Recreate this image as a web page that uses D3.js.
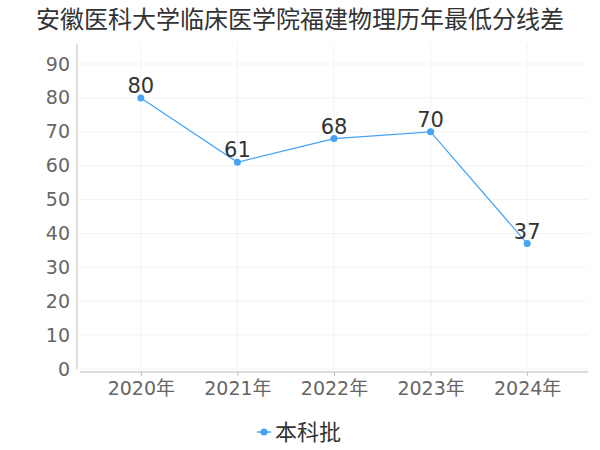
<!DOCTYPE html>
<html>
<head>
<meta charset="utf-8">
<script src="https://cdn.jsdelivr.net/npm/d3@7"></script>
<style>
  body { margin: 0; background: #fff; }
  text { font-family: "DejaVu Sans", "Noto Sans CJK SC", sans-serif; }
</style>
</head>
<body>
<div id="chart"></div>
<script>
const title = '安徽医科大学临床医学院福建物理历年最低分线差'
const years = ['2020年', '2021年', '2022年', '2023年', '2024年']
const scores = [80, 61, 68, 70, 37]
const yTicks = [0, 10, 20, 30, 40, 50, 60, 70, 80, 90]
const seriesName = '本科批'

const width = 600
const height = 450
const lineColor = '#45a3f5'

let svg = d3.select('#chart').append('svg')
    .attr('width', width)
    .attr('height', height)

let x = d3.scalePoint()
    .domain(years)
    .range([80, 588])
    .padding(0.63)

let y = d3.scaleLinear()
    .domain([0, 90])
    .range([369, 64])

// grid
svg.append('g').selectAll('line')
    .data(yTicks)
    .enter()
    .append('line')
    .attr('x1', 80).attr('x2', 588)
    .attr('y1', d => y(d)).attr('y2', d => y(d))
    .attr('stroke', '#f3f3f3')

svg.append('g').selectAll('line')
    .data(years)
    .enter()
    .append('line')
    .attr('x1', d => x(d)).attr('x2', d => x(d))
    .attr('y1', 44).attr('y2', 369)
    .attr('stroke', '#f3f3f3')

// y axis
let yAxis = svg.append('g')
    .attr('transform', 'translate(77,0)')
    .call(d3.axisLeft(y).tickValues(yTicks).tickSize(0).tickPadding(7))
yAxis.select('.domain').attr('d', 'M0,44V369').attr('stroke', '#bbb')
yAxis.selectAll('text').attr('fill', '#666').style('font-size', '19px')

// x axis
let xAxis = svg.append('g')
    .attr('transform', 'translate(0,372)')
    .call(d3.axisBottom(x).tickSize(4).tickPadding(6))
xAxis.select('.domain').attr('d', 'M80,0H588').attr('stroke', '#bbb')
xAxis.selectAll('.tick line').attr('stroke', '#bbb')
xAxis.selectAll('text').attr('fill', '#666').style('font-size', '19px')

// line
let line = d3.line()
    .x((d, i) => x(years[i]))
    .y(d => y(d))

svg.append('path')
    .datum(scores)
    .attr('d', line)
    .attr('fill', 'none')
    .attr('stroke', lineColor)
    .attr('stroke-width', 1.2)

svg.append('g').selectAll('circle')
    .data(scores)
    .enter()
    .append('circle')
    .attr('cx', (d, i) => x(years[i]))
    .attr('cy', d => y(d))
    .attr('r', 3.5)
    .attr('fill', lineColor)

svg.append('g').selectAll('text')
    .data(scores)
    .enter()
    .append('text')
    .attr('x', (d, i) => x(years[i]))
    .attr('y', d => y(d) - 5)
    .attr('text-anchor', 'middle')
    .attr('fill', '#333')
    .style('font-size', '21px')
    .text(d => d)

// title
svg.append('text')
    .attr('x', width / 2)
    .attr('y', 28)
    .attr('text-anchor', 'middle')
    .attr('fill', '#333')
    .style('font-size', '24px')
    .text(title)

// legend
let legend = svg.append('g').attr('transform', 'translate(257,432)')
legend.append('line')
    .attr('x1', 0).attr('x2', 14)
    .attr('stroke', lineColor).attr('stroke-width', 1.5)
legend.append('circle')
    .attr('cx', 7).attr('r', 3.5).attr('fill', lineColor)
legend.append('text')
    .attr('x', 18).attr('y', 8)
    .attr('fill', '#333')
    .style('font-size', '22px')
    .text(seriesName)
</script>
</body>
</html>
